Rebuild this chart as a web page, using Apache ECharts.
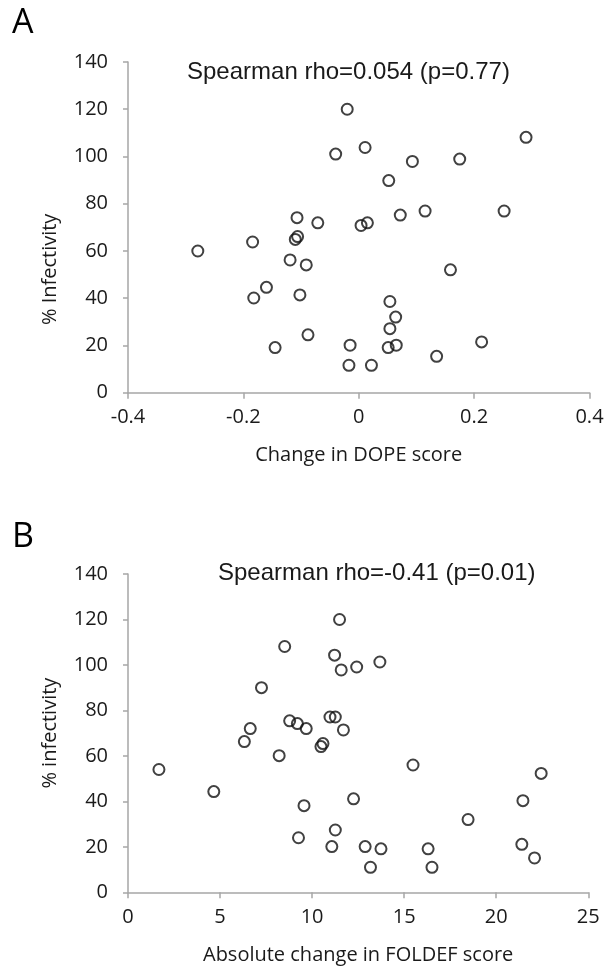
<!DOCTYPE html>
<html>
<head>
<meta charset="utf-8">
<script src="https://cdn.jsdelivr.net/npm/echarts@6/dist/echarts.min.js"></script>
<style>
html,body{margin:0;padding:0;background:#fff;}
#c{width:607px;height:970px;}
</style>
</head>
<body>
<div id="c"></div>
<script>
// Panel A: change in DOPE score vs % infectivity
const dopeX = [-0.279,-0.184,-0.182,-0.160,-0.145,-0.119,-0.107,-0.110,-0.106,-0.102,-0.091,-0.088,-0.071,-0.040,-0.020,-0.015,-0.017,0.004,0.015,0.011,0.022,0.052,0.054,0.064,0.054,0.051,0.065,0.072,0.093,0.115,0.135,0.159,0.175,0.213,0.252,0.290];
const dopeY = [60.0,63.8,40.1,44.6,19.1,56.2,74.1,64.9,66.1,41.4,54.1,24.5,71.9,101,120,20.1,11.6,70.8,71.9,103.8,11.6,89.8,38.6,32.0,27.1,19.1,20.1,75.2,97.9,76.9,15.4,52.0,98.9,21.5,76.9,108.1];
// Panel B: absolute change in FOLDEF score vs % infectivity
const foldefX = [1.68,4.66,6.32,6.64,7.25,8.21,8.51,8.78,9.20,9.26,9.56,9.68,10.48,10.59,10.97,11.26,11.07,11.22,11.26,11.49,11.58,11.70,12.25,12.42,12.88,13.17,13.68,13.74,15.48,16.30,16.51,18.47,21.39,21.45,22.08,22.44];
const foldefY = [54.0,44.3,66.3,72.0,90.0,60.1,108.1,75.4,74.2,24.0,38.1,72.0,64.1,65.4,77.1,77.1,20.1,104.3,27.4,120,97.8,71.4,41.1,99.1,20.1,11.0,101.3,19.1,56.0,19.1,11.0,32.0,21.1,40.3,15.1,52.3];
const panelLabels = ['A','B'];
const titlesText = ['Spearman rho=0.054 (p=0.77)','Spearman rho=-0.41 (p=0.01)'];
const xNames = ['Change in DOPE score','Absolute change in FOLDEF score'];
const yNames = ['% Infectivity','% infectivity'];
const xRangeA = [-0.4, 0.4, 0.2];
const xRangeB = [0, 25, 5];
const yRange = [0, 140, 20];

const chart = echarts.init(document.getElementById('c'), null, {renderer:'canvas'});
const tickFont = 'Open Sans';
const axisGray = '#a6a6a6';
const txt = '#1a1a1a';

function xAxisCfg(idx, r, name){
  return {
    type:'value', gridIndex: idx, min:r[0], max:r[1], interval:r[2],
    name: name, nameLocation:'middle', nameGap: 53,
    nameTextStyle:{fontFamily:tickFont, fontSize:20, color:txt},
    axisLine:{show:true, onZero:false, lineStyle:{color:axisGray, width:1.5}},
    axisTick:{show:true, length:6, lineStyle:{color:axisGray, width:1.5}},
    axisLabel:{fontFamily:tickFont, fontSize:20, color:txt, margin:15,
      formatter: v => (Math.round(v*10)/10).toString()},
    splitLine:{show:false}
  };
}
function yAxisCfg(idx, name, shift){
  return {
    type:'value', gridIndex: idx, min:yRange[0], max:yRange[1], interval:yRange[2],
    name: name, nameLocation:'middle', nameGap: 68,
    nameTextStyle:{fontFamily:tickFont, fontSize:20, color:txt, padding: shift},
    axisLine:{show:true, onZero:false, lineStyle:{color:axisGray, width:1.5}},
    axisTick:{show:true, length:5, lineStyle:{color:axisGray, width:1.5}},
    axisLabel:{fontFamily:tickFont, fontSize:20, color:txt, margin:20},
    splitLine:{show:false}
  };
}

const option = {
  animation:false,
  backgroundColor:'#fff',
  title:[
    {text:panelLabels[0], left:12, top:6, padding:0, textStyle:{fontFamily:tickFont, fontSize:34, fontWeight:'normal', color:'#000', lineHeight:34}},
    {text:panelLabels[1], left:12, top:520, padding:0, textStyle:{fontFamily:tickFont, fontSize:34, fontWeight:'normal', color:'#000', lineHeight:34}},
    {text:titlesText[0], left:187, top:60, padding:0, textStyle:{fontFamily:'Liberation Sans', fontSize:24, fontWeight:'normal', color:txt, lineHeight:24}},
    {text:titlesText[1], left:218, top:561, padding:0, textStyle:{fontFamily:'Liberation Sans', fontSize:24, fontWeight:'normal', color:txt, lineHeight:24}}
  ],
  grid:[
    {left:128, right:17.5, top:62, height:330.7},
    {left:128, right:18.7, top:574, height:318.3}
  ],
  xAxis:[xAxisCfg(0, xRangeA, xNames[0]), xAxisCfg(1, xRangeB, xNames[1])],
  yAxis:[yAxisCfg(0, yNames[0], [0,84,0,0]), yAxisCfg(1, yNames[1], [0,0,0,0])],
  series:[
    {type:'scatter', xAxisIndex:0, yAxisIndex:0, symbol:'circle', symbolSize:11,
     itemStyle:{color:'rgba(255,255,255,0)', borderColor:'#111', borderWidth:2},
     data: dopeX.map((x,i)=>[x, dopeY[i]])},
    {type:'scatter', xAxisIndex:1, yAxisIndex:1, symbol:'circle', symbolSize:11,
     itemStyle:{color:'rgba(255,255,255,0)', borderColor:'#111', borderWidth:2},
     data: foldefX.map((x,i)=>[x, foldefY[i]])}
  ]
};
chart.setOption(option);
</script>
</body>
</html>
